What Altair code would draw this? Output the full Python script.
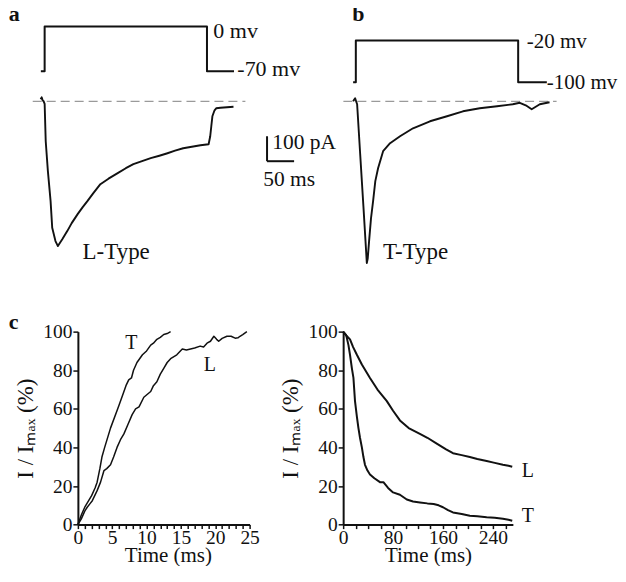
import altair as alt
import pandas as pd

FONT = "Liberation Serif"
INK = "#111111"

# ---------------- data ----------------
# a: voltage protocol (ms, mV)
a_step_t = [-7, 0, 0, 300, 300, 350]
a_step_mv = [-70, -70, 0, 0, -70, -70]
# a: L-type current trace (ms, pA)
l_trace_t = [-7.4, -5.5, -3.7, -1.8, 0, 2, 6, 11, 14, 20, 24.5, 32.6, 41.8, 50, 61, 70, 79, 90,
             103, 118, 135, 150, 164, 180, 196, 212, 227, 241, 256, 272, 288, 303, 306, 308,
             310, 314, 317, 325, 337, 349]
l_trace_pa = [8, 16, 4, 0, -10, -160, -280, -400, -507, -560, -580, -553, -520, -488, -452, -425,
              -400, -368, -332, -310, -288, -268, -252, -240, -228, -218, -208, -198, -188, -182,
              -176, -172, -140, -100, -60, -36, -28, -26, -24, -22]
# b: voltage protocol (ms, mV)
b_step_t = [-5, 0, 0, 300, 300, 353]
b_step_mv = [-100, -100, -20, -20, -100, -100]
# b: T-type current trace (ms, pA)
t_trace_t = [-5, -1.3, 0.5, 2.4, 8, 14, 20.3, 22, 24.5, 28, 31.9, 36, 41.1, 50.4, 63.3, 81.7,
             105.7, 137, 168.5, 198, 229, 261, 290, 303, 314, 325, 340, 358]
t_trace_pa = [0, 12, 0, -12, -210, -420, -648, -630, -560, -470, -400, -320, -268, -200, -168,
              -140, -108, -80, -60, -40, -28, -20, -12, -6, -16, -32, -12, -4]
# zero-current baselines (ms)
a_base_t = [-22, 371]
b_base_t = [-23, 371]
# scale bar: 50 ms by 100 pA
bar_t = [411, 461]
bar_pa = [-140, -240]

# c left: activation, I/Imax (%) vs time (ms)
act_T_t = [0, 0.5, 1.0, 1.5, 2.0, 2.5, 2.8, 3.2, 3.5, 3.9, 4.75, 5.8, 6.0, 6.6, 7.0, 7.4, 7.8,
           8.1, 8.6, 9.4, 10.0, 10.6, 11.0, 11.5, 12.0, 12.5, 13.0, 13.5]
act_T_pct = [0, 5, 9, 12, 15, 19, 22, 29, 35, 40, 50, 60, 62, 68, 72, 75, 76, 80, 84, 88, 90, 93,
             94, 96, 97, 98.5, 99, 100]
act_L_t = [0, 0.5, 1.0, 1.36, 1.8, 2.1, 2.8, 3.3, 3.8, 4.2, 4.75, 5.2, 5.7, 6.2, 6.7, 7.3, 7.9,
           8.4, 8.9, 9.6, 10.6, 11.0, 11.5, 12.0, 12.5, 13.0, 13.5, 14.4, 15.2, 15.8, 16.4, 17.0,
           17.8, 18.3, 18.8, 19.3, 19.8, 20.2, 20.5, 21.0, 21.7, 22.3, 22.9, 23.3, 23.6, 24.0, 24.6]
act_L_pct = [0, 3, 7, 9, 11, 12.4, 17.6, 22, 28, 29, 31, 35, 40, 44, 47, 52, 57, 60, 61, 66, 69,
             72, 74, 78, 81, 84, 86, 88, 91, 90.5, 91, 91.5, 92.5, 92, 94, 95, 97.6, 96, 95, 96.5,
             97.6, 97.6, 96.6, 96.8, 97.6, 98.5, 100]
# c right: inactivation
inact_L_t = [0, 5, 11, 16, 22, 30, 43, 55, 70, 80, 91, 105, 123, 135, 150, 165, 176, 190, 203,
             215, 230, 243, 256, 265, 271]
inact_L_pct = [100, 98, 96, 92, 88, 83, 76, 70, 64, 59, 54, 50, 47, 45, 42, 39, 37, 36, 35, 34,
               33, 32, 31, 30.5, 30]
inact_T_t = [0, 5, 8.5, 11, 14, 16.5, 19, 22, 24.5, 27, 30, 32.5, 35, 39, 43, 50, 59, 64.5, 72,
             80, 91, 102, 112, 123, 135, 145, 153, 160, 168, 176, 190, 203, 215, 230, 243, 256,
             265, 271]
inact_T_pct = [100, 98, 93, 88, 81, 76, 64, 56, 50, 45, 40, 35, 31, 28, 26, 24, 22, 22, 19, 16.7,
               15.5, 13, 12, 11.5, 11, 10.7, 10, 9, 7.5, 6.3, 5.5, 4.6, 4.3, 3.8, 3.5, 3, 2.5, 2]

# annotation texts
a_volt_txt = ["0 mv", "-70 mv"]
a_volt_t = [311.8, 356.1]
a_volt_mv = [-18.7, -77.8]
b_volt_txt = ["-20 mv", "-100 mv"]
b_volt_t = [316, 353]
b_volt_mv = [-35.2, -113.3]
bar_txt = ["100 pA", "50 ms"]
bar_txt_t = [420.7, 404.1]
bar_txt_pa = [-192, -340]
cl_txt = ["T", "L"]
cl_txt_t = [7.8, 19.2]
cl_txt_pct = [94, 82.6]
cr_txt = ["L", "T"]
cr_txt_t = [296, 296]
cr_txt_pct = [27.9, 4.6]

# ---------------- scales ----------------
ycur = alt.Scale(domain=[-760, 280], nice=False, zero=False)
xa = alt.Scale(domain=[61.44, 378.78], nice=False, zero=False)
va = alt.Scale(domain=[-412.2, -7.78], nice=False, zero=False)
xb = alt.Scale(domain=[-23.43, 290.22], nice=False, zero=False)
vb = alt.Scale(domain=[-498.1, -2.857], nice=False, zero=False)


def line(df, xs, yf, ys, width, color=INK, dash=None):
    kw = dict(color=color, strokeWidth=width, strokeJoin="round")
    if dash:
        kw["strokeDash"] = dash
    return alt.Chart(df).mark_line(**kw).encode(
        x=alt.X("t:Q", scale=xs, axis=None),
        y=alt.Y(f"{yf}:Q", scale=ys, axis=None),
        order="i:Q",
    )


def texts(df, xs, yf, ys, size, weight="normal", align="left", baseline="alphabetic"):
    return alt.Chart(df).mark_text(
        font=FONT, fontSize=size, fontWeight=weight, color=INK, align=align, baseline=baseline
    ).encode(
        x=alt.X("t:Q", scale=xs, axis=None),
        y=alt.Y(f"{yf}:Q", scale=ys, axis=None),
        text="label:N",
    )


def top_panel(step_t, step_mv, tr_t, tr_pa, base_t, xs, vs, letter, letter_t, type_lbl, type_t,
              vtxt, vtxt_t, vtxt_mv, vsize, width, with_bar):
    step = pd.DataFrame({"t": step_t, "mv": step_mv, "i": range(len(step_t))})
    trace = pd.DataFrame({"t": tr_t, "pa": tr_pa, "i": range(len(tr_t))})
    base = pd.DataFrame({"t": base_t, "pa": [0, 0], "i": [0, 1]})
    vlab = pd.DataFrame({"t": vtxt_t, "mv": vtxt_mv, "label": vtxt})
    plab = pd.DataFrame({"t": [type_t], "pa": [-632], "label": [type_lbl]})
    llab = pd.DataFrame({"t": [letter_t], "pa": [320], "label": [letter]})
    layers = [
        line(base, xs, "pa", ycur, 1.2, color="#9a9a9a", dash=[9, 5]),
        line(step, xs, "mv", vs, 2),
        texts(vlab, xs, "mv", vs, vsize),
        line(trace, xs, "pa", ycur, 1.9),
        texts(plab, xs, "pa", ycur, 23),
        texts(llab, xs, "pa", ycur, 22, weight="bold"),
    ]
    if with_bar:
        vbar = pd.DataFrame({"t": [bar_t[0]], "pa": [bar_pa[0]], "pa2": [bar_pa[1]]})
        hbar = pd.DataFrame({"t": [bar_t[0]], "t2": [bar_t[1]], "pa": [bar_pa[1]]})
        blab = pd.DataFrame({"t": bar_txt_t, "pa": bar_txt_pa, "label": bar_txt})
        layers += [
            alt.Chart(vbar).mark_rule(color=INK, strokeWidth=2).encode(
                x=alt.X("t:Q", scale=xs, axis=None),
                y=alt.Y("pa:Q", scale=ycur, axis=None), y2="pa2:Q"),
            alt.Chart(hbar).mark_rule(color=INK, strokeWidth=2).encode(
                x=alt.X("t:Q", scale=xs, axis=None), x2="t2:Q",
                y=alt.Y("pa:Q", scale=ycur, axis=None)),
            texts(blab, xs, "pa", ycur, 21.5),
        ]
    return alt.layer(*layers).resolve_scale(y="independent").properties(width=width, height=260)


pa = top_panel(a_step_t, a_step_mv, l_trace_t, l_trace_pa, a_base_t, xa, va, "a", -66.4,
               "L-Type", 70.1, a_volt_txt, a_volt_t, a_volt_mv, 22, 172, True)
pb = top_panel(b_step_t, b_step_mv, t_trace_t, t_trace_pa, b_base_t, xb, vb, "b", -6.8,
               "T-Type", 50.4, b_volt_txt, b_volt_t, b_volt_mv, 21, 170, False)

# ---------------- panel c ----------------
yc = alt.Scale(domain=[0, 100], nice=False, zero=False)
ycax = alt.Axis(values=[0, 20, 40, 60, 80, 100], tickSize=5, title="I / Iₘₐₓ (%)",
                titleX=-45.6, titleAngle=270, titleBaseline="alphabetic", titleFontSize=23)


def c_panel(curves, xs, xax, lab_df, width, sw, extra=None):
    layers = []
    for ct, cp in curves:
        df = pd.DataFrame({"t": ct, "v": cp, "i": range(len(ct))})
        layers.append(alt.Chart(df).mark_line(color=INK, strokeWidth=sw, strokeJoin="round").encode(
            x=alt.X("t:Q", scale=xs, axis=xax),
            y=alt.Y("v:Q", scale=yc, axis=ycax),
            order="i:Q"))
    layers.append(alt.Chart(lab_df).mark_text(font=FONT, fontSize=20, color=INK, align="center",
                                              baseline="middle").encode(
        x=alt.X("t:Q", scale=xs, axis=xax), y=alt.Y("v:Q", scale=yc, axis=ycax), text="label:N"))
    if extra is not None:
        layers.append(alt.Chart(extra).mark_text(font=FONT, fontSize=22, fontWeight="bold",
                                                 color=INK, align="left",
                                                 baseline="alphabetic").encode(
            x=alt.X("t:Q", scale=xs, axis=xax), y=alt.Y("v:Q", scale=yc, axis=ycax),
            text="label:N"))
    return alt.layer(*layers).properties(width=width, height=193.3)


xcl = alt.Scale(domain=[0, 25], nice=False, zero=False)
xclax = alt.Axis(values=list(range(26)), tickSize=4, title="Time (ms)", labelPadding=0,
                 labelExpr="datum.value % 5 === 0 ? datum.label : ''",
                 titleX=90.2, titleY=20, titleBaseline="top")
xcr = alt.Scale(domain=[0, 272], nice=False, zero=False)
xcrax = alt.Axis(values=list(range(0, 261, 20)), tickSize=4, title="Time (ms)", labelPadding=0,
                 labelExpr="datum.value % 80 === 0 ? datum.label : ''",
                 titleX=85, titleY=20, titleBaseline="top")

pcl = c_panel([(act_T_t, act_T_pct), (act_L_t, act_L_pct)], xcl, xclax,
              pd.DataFrame({"t": cl_txt_t, "v": cl_txt_pct, "label": cl_txt}), 172, 1.5,
              extra=pd.DataFrame({"t": [-10.07], "v": [101.2], "label": ["c"]}))
pcr = c_panel([(inact_L_t, inact_L_pct), (inact_T_t, inact_T_pct)], xcr, xcrax,
              pd.DataFrame({"t": cr_txt_t, "v": cr_txt_pct, "label": cr_txt}), 170, 2)

chart = alt.concat(
    pa, pb, pcl, pcr, columns=2, spacing={"row": 40.7, "column": 93.7}, bounds="flush", align="all"
).properties(
    padding={"left": 0, "top": -6, "right": 0, "bottom": 0}
).configure_view(stroke=None).configure_axis(
    domainColor=INK, domainWidth=2, tickColor=INK, tickWidth=1.5, labelFont=FONT,
    labelFontSize=19.5, labelColor=INK, titleFont=FONT, titleFontSize=21,
    titleFontWeight="normal", titleColor=INK, grid=False, labelPadding=1,
    labelFlush=False, labelOverlap=False
)

chart.save("out.html", embed_options={"renderer": "svg", "actions": False})
